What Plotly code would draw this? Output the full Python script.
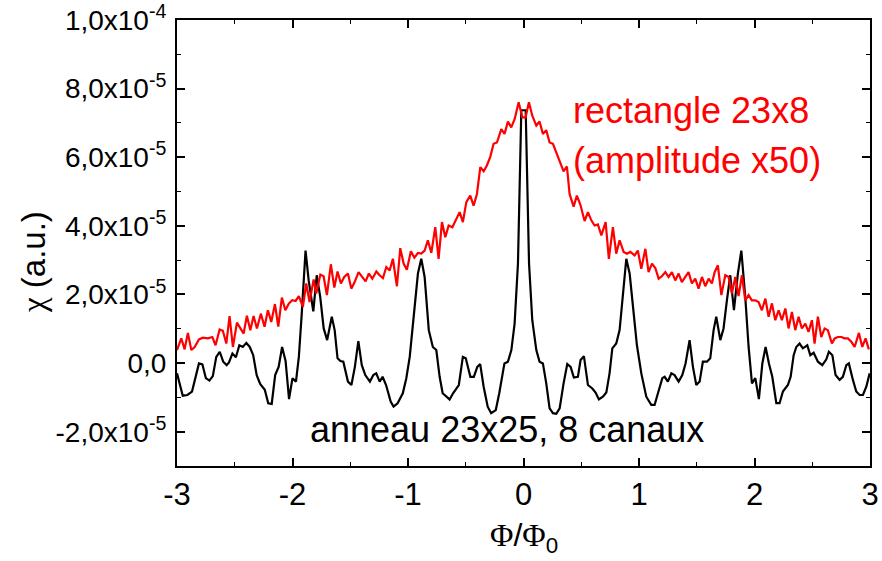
import plotly.graph_objects as go

# ---- data (chi in units of 1e-5) ----
phi_ring = [-3.00, -2.95, -2.91, -2.87, -2.81, -2.78, -2.75, -2.72, -2.69, -2.66, -2.63, -2.60, -2.57, -2.55,
            -2.52, -2.49, -2.46, -2.43, -2.40, -2.37, -2.34, -2.31, -2.28, -2.24, -2.21, -2.18, -2.15, -2.12,
            -2.09, -2.06, -2.03, -2.00, -1.97, -1.945, -1.92, -1.887, -1.86, -1.82, -1.79, -1.76, -1.73, -1.70,
            -1.66, -1.635, -1.61, -1.585, -1.56, -1.52, -1.49, -1.46, -1.43, -1.40, -1.37, -1.33, -1.30, -1.275,
            -1.245, -1.22, -1.19, -1.15, -1.125, -1.09, -1.045, -1.015, -0.985, -0.943, -0.914, -0.885, -0.856,
            -0.82, -0.785, -0.755, -0.726, -0.70, -0.64, -0.61, -0.56, -0.525, -0.50, -0.46, -0.43, -0.40,
            -0.375, -0.345, -0.31, -0.28, -0.24, -0.21, -0.165, -0.135, -0.105, -0.077, -0.048, -0.019,
            0.019, 0.048, 0.076, 0.111, 0.139, 0.168, 0.197, 0.226, 0.255, 0.284, 0.313, 0.347, 0.379, 0.408,
            0.436, 0.471, 0.494, 0.523, 0.558, 0.596, 0.624, 0.653, 0.687, 0.717, 0.745, 0.769, 0.803, 0.832,
            0.861, 0.890, 0.919, 0.953, 0.982, 1.020, 1.063, 1.106, 1.135, 1.164, 1.202, 1.222, 1.250, 1.280,
            1.308, 1.343, 1.375, 1.403, 1.438, 1.467, 1.496, 1.525, 1.553, 1.588, 1.617, 1.646, 1.669, 1.704,
            1.732, 1.761, 1.790, 1.822, 1.856, 1.886, 1.920, 1.949, 1.978, 2.007, 2.038, 2.068, 2.096, 2.125,
            2.154, 2.189, 2.217, 2.246, 2.289, 2.313, 2.339, 2.362, 2.390, 2.419, 2.457, 2.483, 2.512, 2.549,
            2.587, 2.622, 2.644, 2.674, 2.702, 2.737, 2.765, 2.795, 2.817, 2.852, 2.881, 2.910, 2.939, 2.968,
            2.997]
chi_ring = [-0.30, -0.95, -0.93, -0.83, -0.01, -0.04, -0.44, -0.51, -0.38, 0.18, 0.33, 0.04, -0.06, 0.02,
            0.28, 0.17, 0.52, 0.47, 0.59, 0.47, 0.23, -0.35, -0.61, -0.78, -1.17, -1.19, -0.35, -0.11,
            0.47, 0.06, -1.05, -0.44, -0.54, 0.18, 1.44, 3.28, 2.41, 1.51, 2.56, 1.93, 1.01, 0.67,
            1.35, 0.96, 0.14, 0.06, 0.04, -0.54, -0.64, -0.11, 0.64, -0.06, -0.35, -0.54, -0.35, -0.30,
            -0.54, -0.40, -0.64, -1.12, -1.27, -1.17, -0.88, -0.45, 0.18, 1.54, 2.61, 3.04, 2.51,
            0.96, 0.47, 0.38, -0.40, -0.88, -1.06, -0.88, -0.64, 0.18, 0.14, -0.40, -0.40, -0.11,
            -0.03, -0.69, -1.27, -1.46, -1.37, -0.88, -0.01, 0.04, 0.38, 1.15, 2.90, 7.37,
            7.37, 2.90, 1.25, 0.38, 0.04, -0.01, -0.59, -1.32, -1.46, -1.48, -1.32, -0.59, -0.03, -0.11,
            -0.42, -0.40, 0.09, 0.20, -0.64, -0.74, -0.86, -1.06, -0.98, -0.86, -0.30, 0.43, 0.57, 0.96,
            1.93, 3.04, 2.61, 1.44, 0.52, -0.30, -0.98, -1.22, -1.22, -0.88, -0.44, -0.40, -0.54, -0.30,
            -0.35, -0.54, -0.35, -0.01, 0.67, -0.11, -0.64, -0.54, 0.04, 0.04, 0.14, 0.96, 1.35, 0.67,
            1.01, 1.83, 2.56, 1.54, 2.61, 3.28, 1.93, 0.47, -0.59, -0.44, -1.05, -0.01, 0.47, -0.01,
            -0.40, -1.17, -1.17, -0.83, -0.64, -0.40, 0.23, 0.47, 0.57, 0.43, 0.52, 0.23, 0.30, 0.04,
            -0.06, 0.11, 0.33, 0.23, -0.35, -0.49, -0.40, -0.06, -0.01, -0.49, -0.83, -0.93, -0.93, -0.69,
            -0.30]

phi_rect = [-3.000, -2.963, -2.934, -2.906, -2.876, -2.847, -2.810, -2.776, -2.732, -2.694, -2.666, -2.631,
            -2.603, -2.573, -2.545, -2.516, -2.481, -2.452, -2.423, -2.395, -2.365, -2.337, -2.308, -2.274,
            -2.242, -2.213, -2.184, -2.152, -2.123, -2.092, -2.062, -2.031, -2.002, -1.973, -1.945, -1.910,
            -1.881, -1.852, -1.817, -1.794, -1.759, -1.731, -1.702, -1.668, -1.638, -1.610, -1.581, -1.552,
            -1.520, -1.491, -1.462, -1.428, -1.396, -1.367, -1.339, -1.309, -1.274, -1.246, -1.217, -1.188,
            -1.159, -1.131, -1.096, -1.067, -1.038, -1.010, -0.975, -0.945, -0.914, -0.885, -0.856, -0.828,
            -0.798, -0.764, -0.735, -0.706, -0.677, -0.648, -0.616, -0.588, -0.553, -0.525, -0.495, -0.461,
            -0.432, -0.403, -0.374, -0.345, -0.317, -0.287, -0.259, -0.230, -0.192, -0.164, -0.135, -0.106,
            -0.077, -0.042, -0.010, 0.018, 0.047, 0.076, 0.111, 0.139, 0.168, 0.197, 0.226, 0.255, 0.284,
            0.319, 0.347, 0.376, 0.399, 0.434, 0.462, 0.492, 0.529, 0.558, 0.587, 0.616, 0.644, 0.674,
            0.711, 0.739, 0.774, 0.803, 0.832, 0.867, 0.895, 0.925, 0.962, 0.990, 1.020, 1.055, 1.083,
            1.112, 1.141, 1.170, 1.198, 1.228, 1.256, 1.285, 1.314, 1.343, 1.371, 1.401, 1.429, 1.458,
            1.487, 1.516, 1.545, 1.574, 1.603, 1.631, 1.655, 1.683, 1.713, 1.747, 1.776, 1.804, 1.834,
            1.862, 1.891, 1.920, 1.949, 1.977, 2.007, 2.035, 2.064, 2.094, 2.122, 2.151, 2.180, 2.209,
            2.237, 2.267, 2.295, 2.324, 2.353, 2.382, 2.410, 2.440, 2.468, 2.497, 2.520, 2.549, 2.578,
            2.607, 2.635, 2.670, 2.694, 2.722, 2.752, 2.780, 2.809, 2.838, 2.867, 2.904, 2.933, 2.962,
            2.990]
chi_rect = [0.38, 0.72, 0.40, 0.88, 0.38, 0.47, 0.69, 0.74, 0.72, 0.76, 0.52, 0.98,
            0.94, 0.57, 1.37, 0.47, 1.18, 1.01, 0.86, 1.38, 0.96, 1.37, 1.01, 1.44,
            1.06, 1.54, 1.20, 1.72, 1.06, 1.91, 1.54, 1.74, 1.83, 1.81, 1.95, 1.64,
            2.32, 1.78, 2.44, 2.03, 2.58, 2.53, 1.98, 2.88, 2.20, 2.67, 2.32, 2.51,
            2.61, 2.17, 2.36, 2.65, 2.51, 2.38, 2.61, 2.46, 2.67, 2.56, 2.48, 2.80,
            2.70, 3.04, 2.24, 3.35, 2.90, 2.72, 3.26, 3.07, 3.21, 3.19, 3.28, 3.58,
            3.21, 3.96, 3.04, 4.11, 3.67, 4.01, 3.96, 4.16, 4.40, 4.11, 4.69, 4.88,
            4.59, 4.93, 5.71, 5.59, 5.76, 6.02, 6.39, 6.43, 6.82, 6.68, 7.04, 6.87,
            7.11, 7.60, 7.16, 7.16, 7.60, 7.21, 6.92, 7.04, 6.68, 6.79, 6.43, 6.39, 6.14,
            5.78, 5.59, 5.73, 4.93, 4.56, 4.88, 4.62, 4.14, 4.40, 4.16, 4.01, 4.04, 3.72,
            4.11, 3.04, 3.96, 3.19, 3.58, 3.24, 3.19, 3.24, 3.14, 3.28, 2.75, 3.33, 2.65,
            2.90, 2.77, 2.46, 2.53, 2.65, 2.51, 2.65, 2.41, 2.61, 2.36, 2.51, 2.65, 2.32,
            2.46, 2.17, 2.51, 2.24, 2.46, 2.32, 2.65, 2.85, 1.98, 2.56, 2.51, 2.03, 2.51,
            1.95, 2.56, 1.83, 1.98, 1.83, 1.83, 1.78, 1.54, 1.88, 1.35, 1.74, 1.25, 1.54,
            1.25, 1.59, 1.01, 1.49, 0.96, 1.35, 1.01, 1.15, 0.91, 1.25, 0.57, 1.35, 0.76,
            1.01, 0.96, 0.57, 0.72, 0.76, 0.76, 0.72, 0.72, 0.62, 0.47, 0.88, 0.47, 0.72,
            0.40]

y_tickvals = [-2, 0, 2, 4, 6, 8, 10]
y_ticktext = ["-2,0x10<sup>-5</sup>", "0,0", "2,0x10<sup>-5</sup>", "4,0x10<sup>-5</sup>",
              "6,0x10<sup>-5</sup>", "8,0x10<sup>-5</sup>", "1,0x10<sup>-4</sup>"]
x_tickvals = [-3, -2, -1, 0, 1, 2, 3]
x_ticktext = ["-3", "-2", "-1", "0", "1", "2", "3"]

FONT = "Arial, Liberation Sans, sans-serif"
SERIF = "<span style=\"font-family:Liberation Serif, Times New Roman, serif\">{}</span>"

fig = go.Figure()
fig.add_trace(go.Scatter(x=phi_ring, y=chi_ring, mode="lines",
                         line=dict(color="black", width=2.2), showlegend=False))
fig.add_trace(go.Scatter(x=phi_rect, y=chi_rect, mode="lines",
                         line=dict(color="#ff0000", width=2.2), showlegend=False))

axis_common = dict(showline=True, linecolor="black", linewidth=2, mirror="ticks",
                   ticks="inside", ticklen=8, tickwidth=1.6, tickcolor="black",
                   showgrid=False, zeroline=False, ticklabeloverflow="allow",
                   automargin=False)

fig.update_xaxes(range=[-3, 3], tickvals=x_tickvals, ticktext=x_ticktext,
                 tickfont=dict(family=FONT, size=31, color="black"),
                 minor=dict(dtick=0.5, ticks="inside", ticklen=4, tickwidth=1.4, tickcolor="black"),
                 **axis_common)
fig.update_yaxes(range=[-3, 10], tickvals=y_tickvals, ticktext=y_ticktext,
                 tickfont=dict(family=FONT, size=28, color="black"), ticklabelstandoff=3,
                 minor=dict(dtick=1, ticks="inside", ticklen=4, tickwidth=1.4, tickcolor="black"),
                 **axis_common)

fig.add_annotation(x=0.414, y=7.35, xref="x", yref="y", text="rectangle 23x8",
                   showarrow=False, xanchor="left", yanchor="middle",
                   font=dict(family=FONT, size=36, color="#ff0000"))
fig.add_annotation(x=0.414, y=5.90, xref="x", yref="y", text="(amplitude x50)",
                   showarrow=False, xanchor="left", yanchor="middle",
                   font=dict(family=FONT, size=36, color="#ff0000"))
fig.add_annotation(x=-1.869, y=-1.95, xref="x", yref="y", text="anneau 23x25, 8 canaux",
                   showarrow=False, xanchor="left", yanchor="middle",
                   font=dict(family=FONT, size=36, color="black"))

# axis titles
fig.add_annotation(x=0.5, y=-0.16, xref="paper", yref="paper",
                   text=SERIF.format("\u03a6") + "/" + SERIF.format("\u03a6") + "<sub>0</sub>",
                   showarrow=False, xanchor="center", yanchor="middle",
                   font=dict(family=FONT, size=32, color="black"))
fig.add_annotation(x=-0.208, y=0.457, xref="paper", yref="paper",
                   text=SERIF.format("\u03c7") + " (a.u.)", textangle=-90,
                   showarrow=False, xanchor="center", yanchor="middle",
                   font=dict(family=FONT, size=33, color="black"))

fig.update_layout(width=882, height=561, margin=dict(l=177, r=12, t=20, b=95, autoexpand=False),
                  plot_bgcolor="white", paper_bgcolor="white",
                  font=dict(family=FONT, color="black"))

# remove the default 8px page margin so the 882x561 figure fills the window exactly
fig.write_html("out.html", config={"displayModeBar": False},
               post_script="document.body.style.margin='0';")
